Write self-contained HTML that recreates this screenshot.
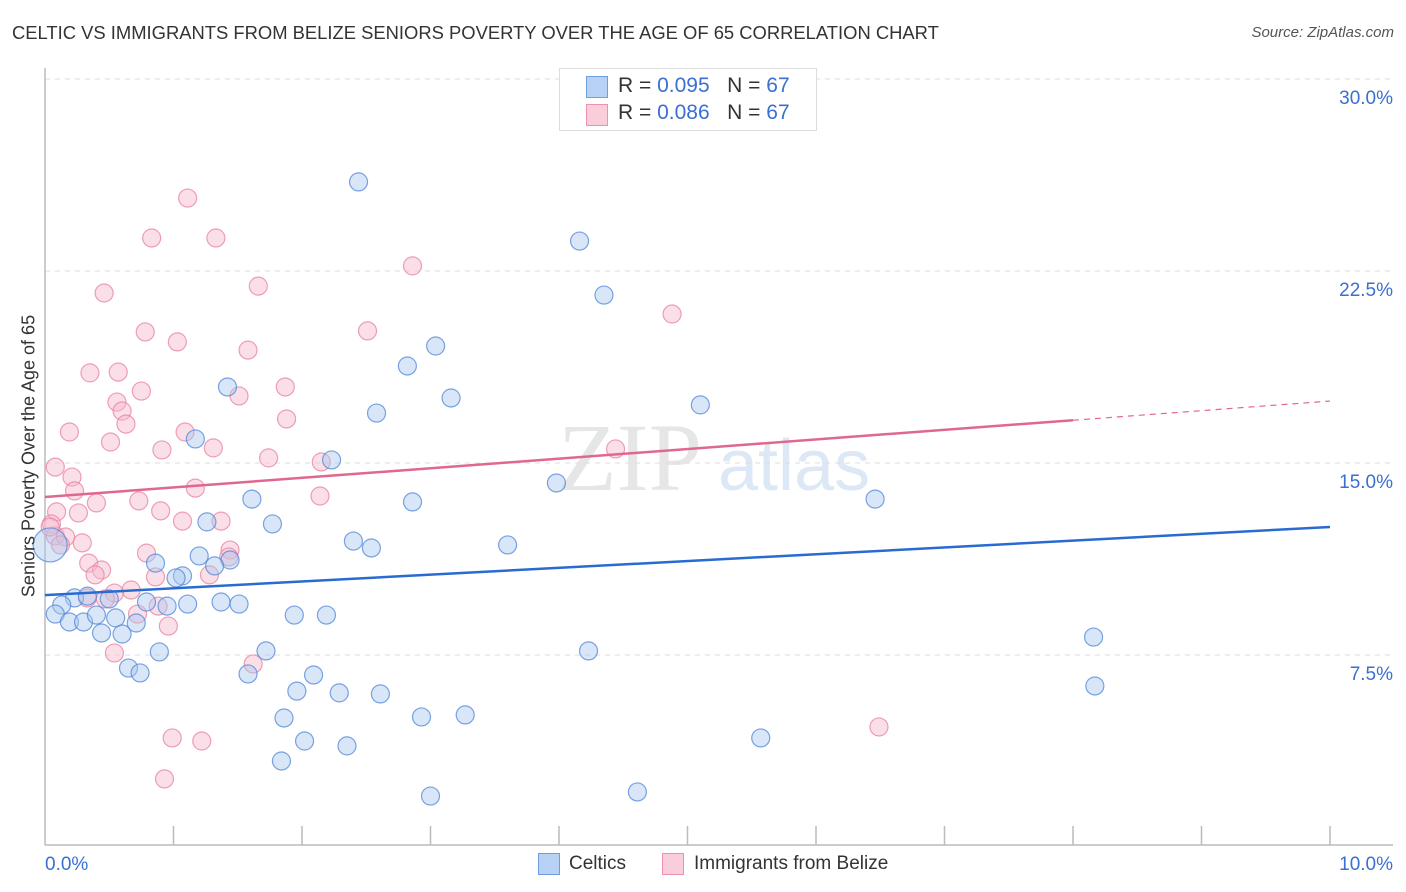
<!DOCTYPE html>
<html><head><meta charset="utf-8"><style>
body{margin:0;background:#fff;font-family:"Liberation Sans",sans-serif;}
#wrap{position:relative;width:1406px;height:892px;overflow:hidden;}
.t{position:absolute;white-space:nowrap;}
</style></head><body>
<div id="wrap">
<div class="t" style="left:12px;top:22px;font-size:18.4px;color:#333;">CELTIC VS IMMIGRANTS FROM BELIZE SENIORS POVERTY OVER THE AGE OF 65 CORRELATION CHART</div>
<div class="t" style="right:12px;top:24px;font-size:15px;color:#555;font-style:italic;">Source: ZipAtlas.com</div>
<svg id="plot" width="1406" height="892" style="position:absolute;left:0;top:0"></svg>
<div class="t" style="left:17px;top:456px;font-size:18px;color:#333;transform:translate(-50%,-50%) rotate(-90deg);transform-origin:center;margin-left:12px;">Seniors Poverty Over the Age of 65</div>
<div style="position:absolute;left:559px;top:68px;width:256px;height:61px;border:1px solid #ddd;background:#fff;">
 <div style="position:absolute;left:26px;top:7px;width:20px;height:20px;background:#b8d2f5;border:1px solid #6d9fe0;"></div>
 <div class="t" style="left:58px;top:5px;font-size:21px;color:#333;">R = <span style="color:#3a70d0">0.095</span>&nbsp;&nbsp;&nbsp;N = <span style="color:#3a70d0">67</span></div>
 <div style="position:absolute;left:26px;top:35px;width:20px;height:20px;background:#f9cdda;border:1px solid #ec92b0;"></div>
 <div class="t" style="left:58px;top:32px;font-size:21px;color:#333;">R = <span style="color:#3a70d0">0.086</span>&nbsp;&nbsp;&nbsp;N = <span style="color:#3a70d0">67</span></div>
</div>
<div style="position:absolute;left:538px;top:853px;width:20px;height:20px;background:#b8d2f5;border:1px solid #6d9fe0;"></div>
<div class="t" style="left:569px;top:853px;font-size:19px;color:#333;">Celtics</div>
<div style="position:absolute;left:662px;top:853px;width:20px;height:20px;background:#f9cdda;border:1px solid #ec92b0;"></div>
<div class="t" style="left:694px;top:853px;font-size:19px;color:#333;">Immigrants from Belize</div>
</div>
<script>
const blueX=[2.44,4.16,4.35,3.04,2.82,1.42,3.16,5.10,2.58,1.17,2.23,3.98,1.61,2.86,6.46,1.26,1.77,2.40,2.54,3.60,1.20,1.44,0.86,1.32,1.07,1.02,0.23,0.13,0.33,0.50,0.79,0.95,1.11,1.37,1.51,0.08,0.19,0.30,0.40,0.55,0.71,0.44,0.60,1.94,2.19,0.89,1.72,4.23,8.16,0.65,0.74,1.58,2.09,1.96,2.29,2.61,8.17,1.86,2.93,3.27,2.02,2.35,5.57,1.84,3.00,4.61,0.04];
const blueY=[25.98,23.67,21.56,19.57,18.79,17.97,17.54,17.27,16.95,15.94,15.12,14.22,13.59,13.48,13.59,12.70,12.62,11.95,11.68,11.80,11.37,11.21,11.09,10.98,10.59,10.51,9.73,9.45,9.80,9.69,9.57,9.41,9.49,9.57,9.49,9.10,8.79,8.79,9.06,8.95,8.75,8.36,8.32,9.06,9.06,7.62,7.66,7.66,8.20,6.99,6.80,6.76,6.72,6.09,6.02,5.98,6.29,5.04,5.08,5.16,4.14,3.95,4.26,3.36,1.99,2.15,11.80];
const pinkX=[1.11,0.83,1.33,2.86,0.46,1.66,4.88,0.78,2.51,1.03,1.58,0.35,0.57,1.87,0.75,1.51,0.56,0.60,0.63,0.19,1.88,0.51,1.09,1.31,0.91,1.74,2.15,4.44,0.08,0.21,0.23,1.17,0.40,0.73,2.14,0.09,0.26,0.90,1.07,1.37,0.05,0.08,0.16,0.12,0.29,0.79,1.44,0.34,0.44,0.39,0.86,1.28,0.67,0.54,0.47,0.72,0.88,0.96,0.33,0.54,1.62,6.49,0.99,1.22,0.93,0.04,1.43];
const pinkY=[25.35,23.79,23.79,22.70,21.64,21.91,20.82,20.12,20.16,19.73,19.41,18.52,18.55,17.97,17.81,17.62,17.38,17.03,16.52,16.21,16.72,15.82,16.21,15.59,15.51,15.20,15.04,15.55,14.84,14.45,13.91,14.02,13.44,13.52,13.71,13.09,13.05,13.13,12.73,12.73,12.62,12.15,12.11,11.80,11.88,11.48,11.60,11.09,10.82,10.63,10.55,10.63,10.04,9.92,9.69,9.10,9.41,8.63,9.73,7.58,7.15,4.69,4.26,4.14,2.66,12.50,11.33];
const yTicks=[7.5,15,22.5,30];
const yTickLabels=["7.5%","15.0%","22.5%","30.0%"];
const xTicks=[1,2,3,4,5,6,7,8,9,10];
const blueTrend=[9.84,12.50];   // y at x=0, x=10
const pinkTrend=[13.67,17.42];  // y at x=0, x=10
const pinkSolidEnd=8.0;

const X=v=>45+v*128.5, Y=v=>847-v*25.6;
const svg=document.getElementById('plot');
const NS='http://www.w3.org/2000/svg';
function mk(tag,attrs){const e=document.createElementNS(NS,tag);for(const k in attrs)e.setAttribute(k,attrs[k]);svg.appendChild(e);return e;}
let wm=mk('text',{x:558,y:490,'font-size':96,'font-family':'Liberation Serif,serif',fill:'#e6e6e6'});wm.textContent='ZIP';


let wm2=mk('text',{x:718,y:490,'font-size':72,'font-family':'Liberation Sans,sans-serif',fill:'#dde8f6'});wm2.textContent='atlas';


yTicks.forEach((v,i)=>{
 const g=mk('line',{x1:45,x2:1393,y1:Y(v),y2:Y(v),stroke:'#ddd','stroke-dasharray':'5,5'});
 
 
 const t=mk('text',{x:1393,y:Y(v)+25,'text-anchor':'end','font-size':19,fill:'#3a70d0','font-family':'Liberation Sans,sans-serif'});
 t.textContent=yTickLabels[i];
 
 
});
const ax=mk('line',{x1:45,x2:45,y1:68,y2:845,stroke:'#bbb','stroke-width':1.5});


const bx=mk('line',{x1:45,x2:1393,y1:845,y2:845,stroke:'#bbb','stroke-width':1.5});


xTicks.forEach(v=>{
 const t=mk('line',{x1:X(v),x2:X(v),y1:826,y2:845,stroke:'#bbb','stroke-width':1.5});
 
 
});
const xl0=mk('text',{x:45,y:870,'font-size':19,fill:'#3a70d0','font-family':'Liberation Sans,sans-serif'});xl0.textContent='0.0%';


const xl1=mk('text',{x:1393,y:870,'text-anchor':'end','font-size':19,fill:'#3a70d0','font-family':'Liberation Sans,sans-serif'});xl1.textContent='10.0%';


function pts(xs,ys,fill,stroke,name){
 xs.forEach((x,i)=>{
  const big=(i===xs.length-1&&name==='celtic-point');
  const c=mk('circle',{cx:X(x),cy:Y(ys[i]),r:big?17:9,fill:fill,'fill-opacity':0.45,stroke:stroke,'stroke-width':1.2,'stroke-opacity':0.75});
  
  
 });
}
pts(pinkX,pinkY,'#f7b9cc','#e8809f','belize-point');
pts(blueX,blueY,'#a9c8f0','#4f86d8','celtic-point');
const pt=v=>pinkTrend[0]+(pinkTrend[1]-pinkTrend[0])*v/10;
const l1=mk('line',{x1:X(0),y1:Y(blueTrend[0]),x2:X(10),y2:Y(blueTrend[1]),stroke:'#2a6bd1','stroke-width':2.5});


const l2=mk('line',{x1:X(0),y1:Y(pt(0)),x2:X(pinkSolidEnd),y2:Y(pt(pinkSolidEnd)),stroke:'#e06791','stroke-width':2.5});


const l3=mk('line',{x1:X(pinkSolidEnd),y1:Y(pt(pinkSolidEnd)),x2:X(10),y2:Y(pt(10)),stroke:'#e06791','stroke-width':1.2,'stroke-dasharray':'6,5'});


</script>
</body></html>
